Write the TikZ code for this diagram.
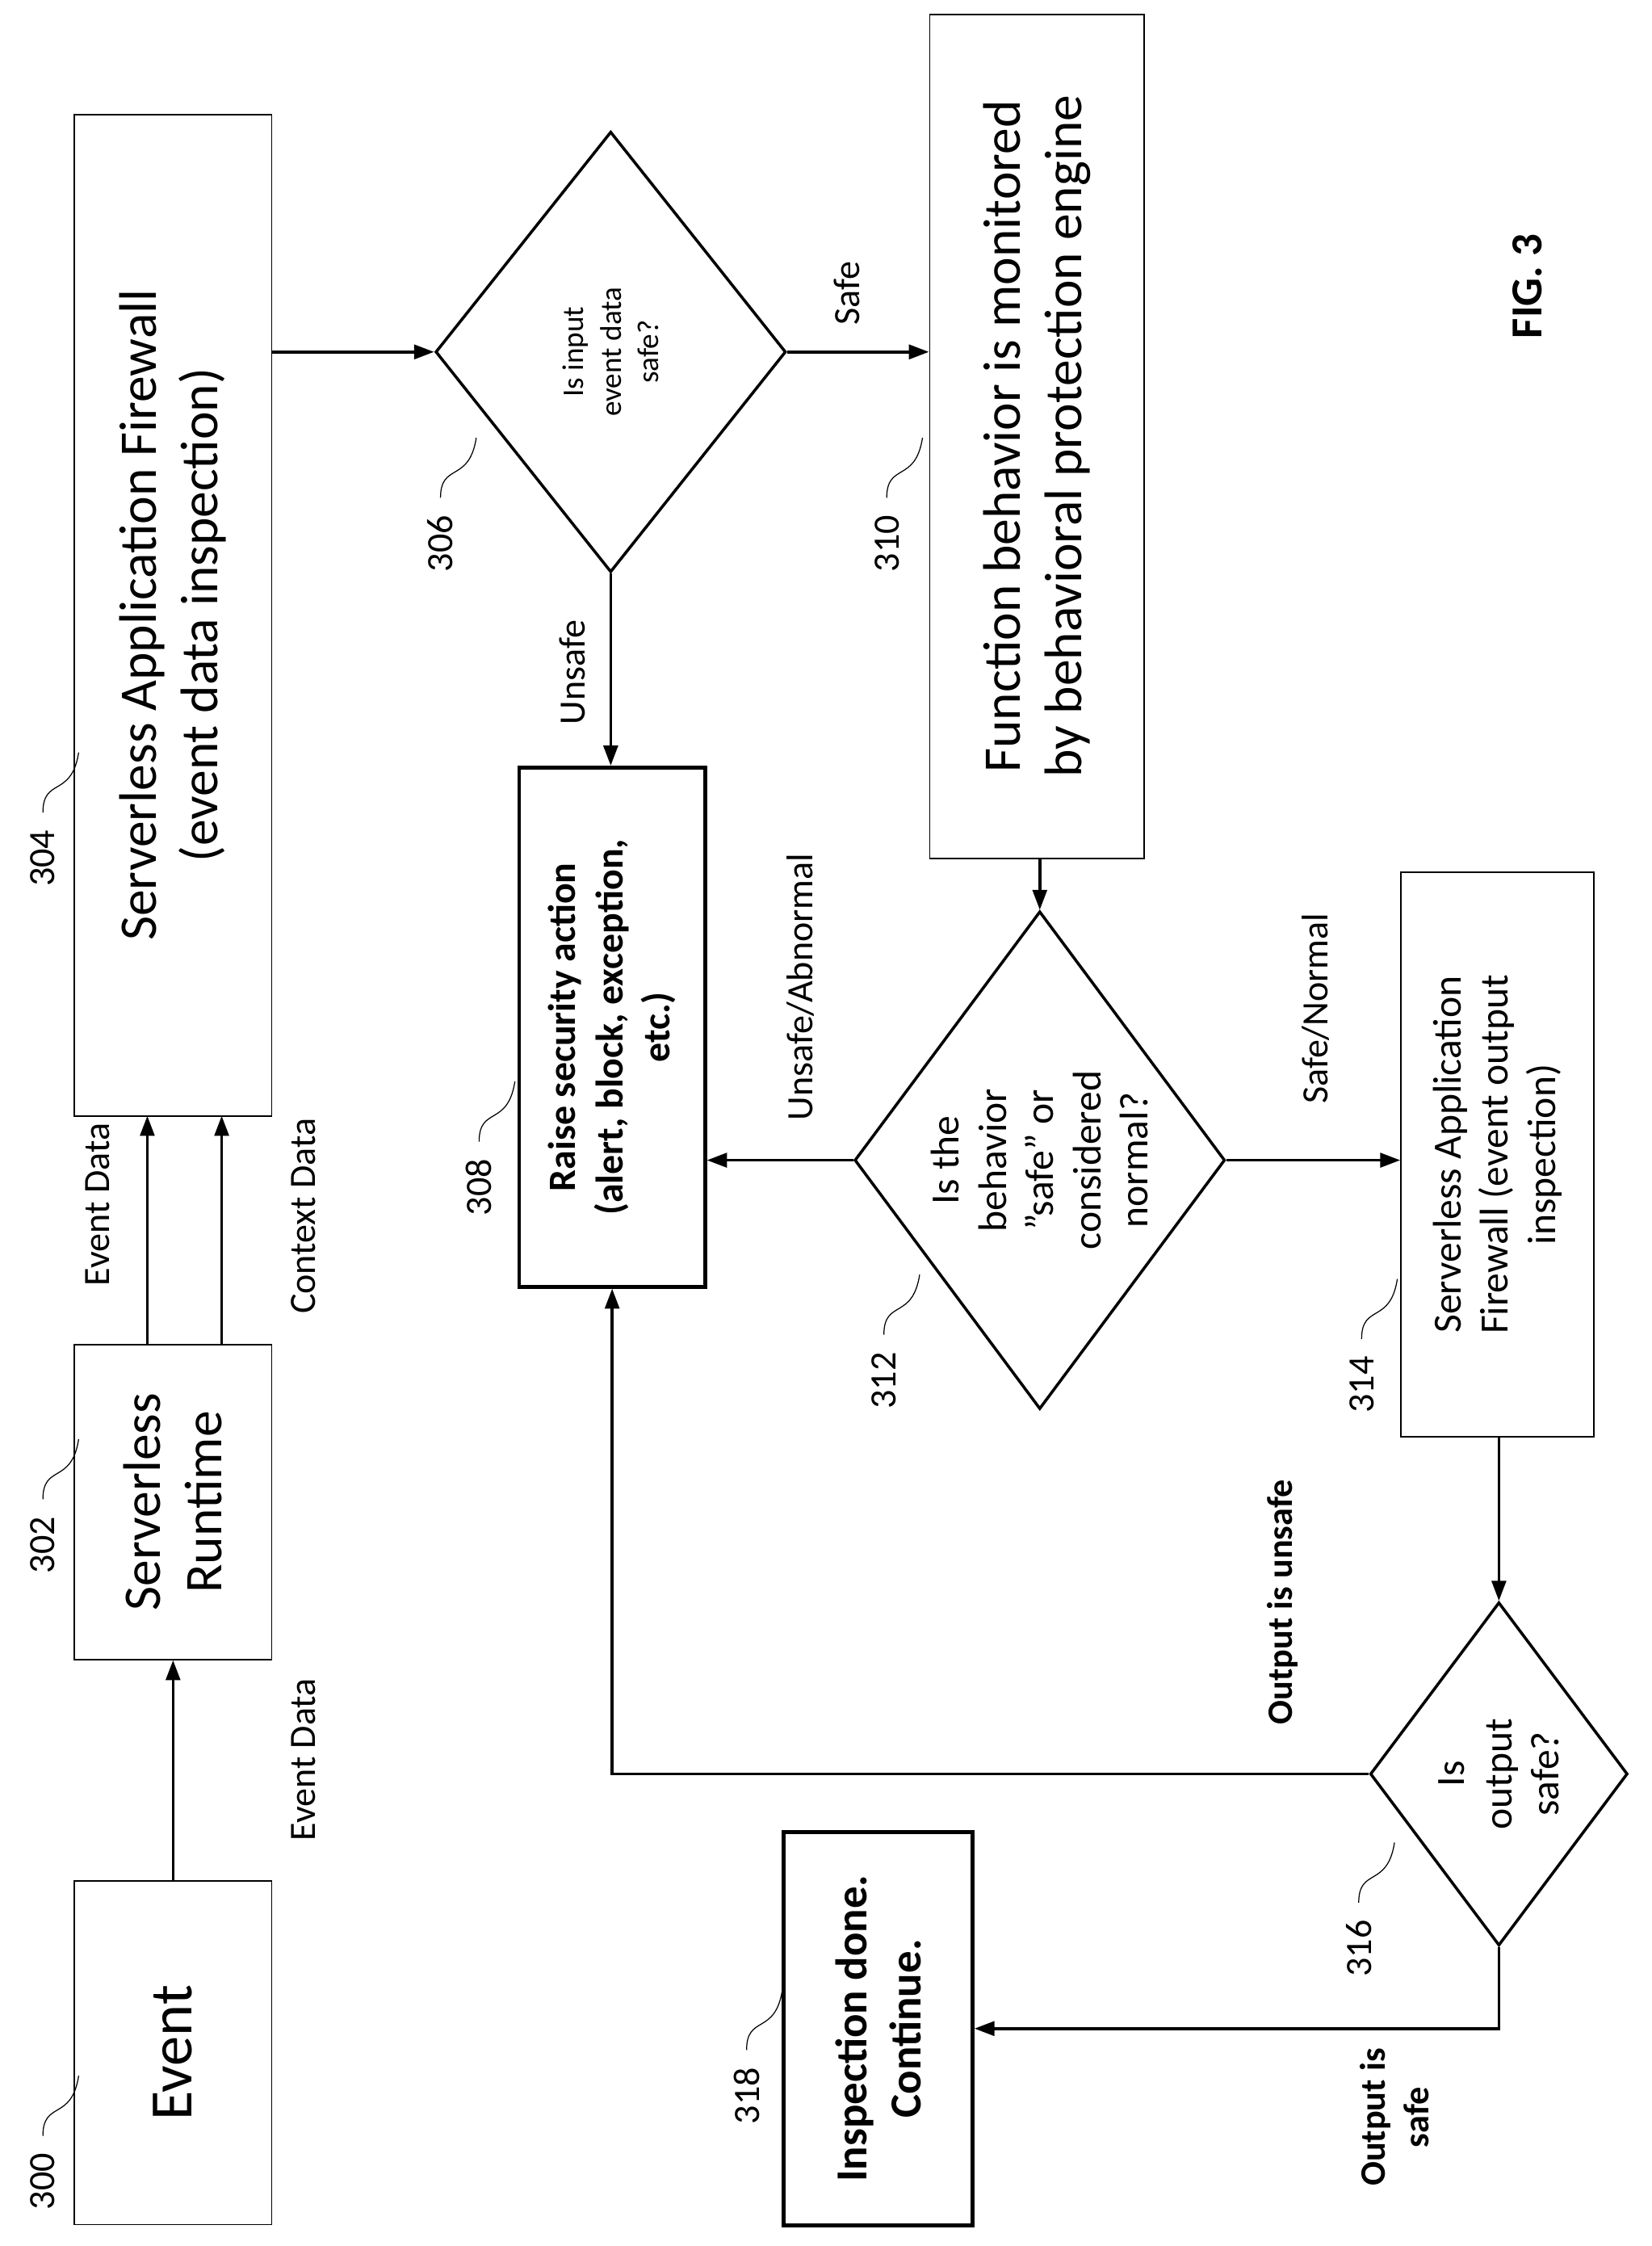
\documentclass[tikz,border=0pt]{standalone}
\usepackage{fontspec}
\setmainfont{Carlito}
\usetikzlibrary{shapes.geometric,arrows.meta}
\begin{document}
\begin{tikzpicture}[x=1pt,y=-1pt,
 box/.style={draw,line width=1pt,inner sep=0},
 tbox/.style={box,line width=2.6pt},
 dia/.style={draw,diamond,line width=2pt,inner sep=0},
 txt/.style={rotate=90,align=center,inner sep=0},
 big/.style={font=\fontsize{37}{43}\selectfont},
 mid/.style={font=\fontsize{28}{33}\selectfont},
 lab/.style={rotate=90,inner sep=0,font=\fontsize{26}{30}\selectfont,align=center},
 arr/.style={line width=2pt,-{Triangle[length=14pt,width=10pt]}},
 lead/.style={line width=0.7pt}]
\useasboundingbox (0,0) rectangle (1155,1570);
% boxes
\node[box,minimum width=138,minimum height=240] (ev) at (121,1435) {};
\node[txt,font=\fontsize{42}{48}\selectfont] at (ev) {Event};
\node[box,minimum width=138,minimum height=220] (rt) at (121,1050) {};
\node[txt,big] at (rt) {Serverless\\Runtime};
\node[box,minimum width=138,minimum height=700] (fw) at (121,430) {};
\node[txt,big] at (fw) {Serverless Application Firewall\\(event data inspection)};
\node[dia,minimum width=245,minimum height=308] (d1) at (427,246) {};
\node[txt,font=\fontsize{21}{26}\selectfont] at (d1) {Is input\\event data\\safe?};
\node[box,minimum width=150,minimum height=590] (fb) at (725,305) {};
\node[txt,big] at (fb) {Function behavior is monitored\\by behavioral protection engine};
\node[tbox,minimum width=130,minimum height=363] (rs) at (428,718) {};
\node[txt,font=\bfseries\fontsize{27}{33}\selectfont] at (rs) {Raise security action\\(alert, block, exception,\\etc.)};
\node[dia,minimum width=259,minimum height=348] (d2) at (727,811) {};
\node[txt,mid] at (d2) {Is the\\behavior\\”safe” or\\considered\\normal?};
\node[box,minimum width=135,minimum height=395] (fo) at (1047,807) {};
\node[txt,mid] at (fo) {Serverless Application\\Firewall (event output\\inspection)};
\node[dia,minimum width=180,minimum height=240] (d3) at (1048,1240) {};
\node[txt,mid] at (d3) {Is\\output\\safe?};
\node[tbox,minimum width=132,minimum height=275] (done) at (614,1418) {};
\node[txt,font=\bfseries\fontsize{31}{38}\selectfont] at (done) {Inspection done.\\Continue.};
% arrows
\draw[arr] (ev.north) -- (rt.south);
\draw[arr] (103,940) -- (103,780);
\draw[arr] (155,940) -- (155,780);
\draw[arr] (fw.east |- d1) -- (d1.west);
\draw[arr] (d1.east) -- (d1.east -| fb.west);
\draw[arr] (d1.south) -- (d1.south |- rs.north);
\draw[arr] (fb.south -| d2) -- (d2.north);
\draw[arr] (d2.west) -- (d2.west -| rs.east);
\draw[arr] (d2.east) -- (d2.east -| fo.west);
\draw[arr] (fo.south -| d3) -- (d3.north);
\coordinate (c1) at (rs.south |- d3.west);
\draw[arr] (d3.west) -- (c1) -- (rs.south);
\coordinate (c2) at (d3.south |- done.east);
\draw[arr] (d3.south) -- (c2) -- (done.east);
% edge labels
\node[lab] at (212,1230) {Event Data};
\node[lab] at (68,842) {Event Data};
\node[lab] at (212,850) {Context Data};
\node[lab] at (400,470) {Unsafe};
\node[lab] at (592,205) {Safe};
\node[lab] at (560,690) {Unsafe/Abnormal};
\node[lab] at (920,705) {Safe/Normal};
\node[lab,font=\bfseries\fontsize{25}{29}\selectfont] at (897,1120) {Output is unsafe};
\node[lab,font=\bfseries\fontsize{25}{30}\selectfont] at (975,1480) {Output is\\safe};
\node[rotate=90,font=\bfseries\fontsize{31}{36}\selectfont] at (1068,200) {FIG. 3};
% reference numbers
\foreach \n/\x/\y in {300/30/1525,302/30/1080,304/30/600,306/308/380,308/335/830,310/620/380,312/618/965,314/952/968,316/950/1362,318/522/1465}{
  \node[lab] (n\n) at (\x,\y) {\n};
  \draw[lead] (\x,\y-32) .. controls (\x,\y-57) and (\x+20,\y-42) .. (\x+25,\y-74);
}
\end{tikzpicture}
\end{document}
